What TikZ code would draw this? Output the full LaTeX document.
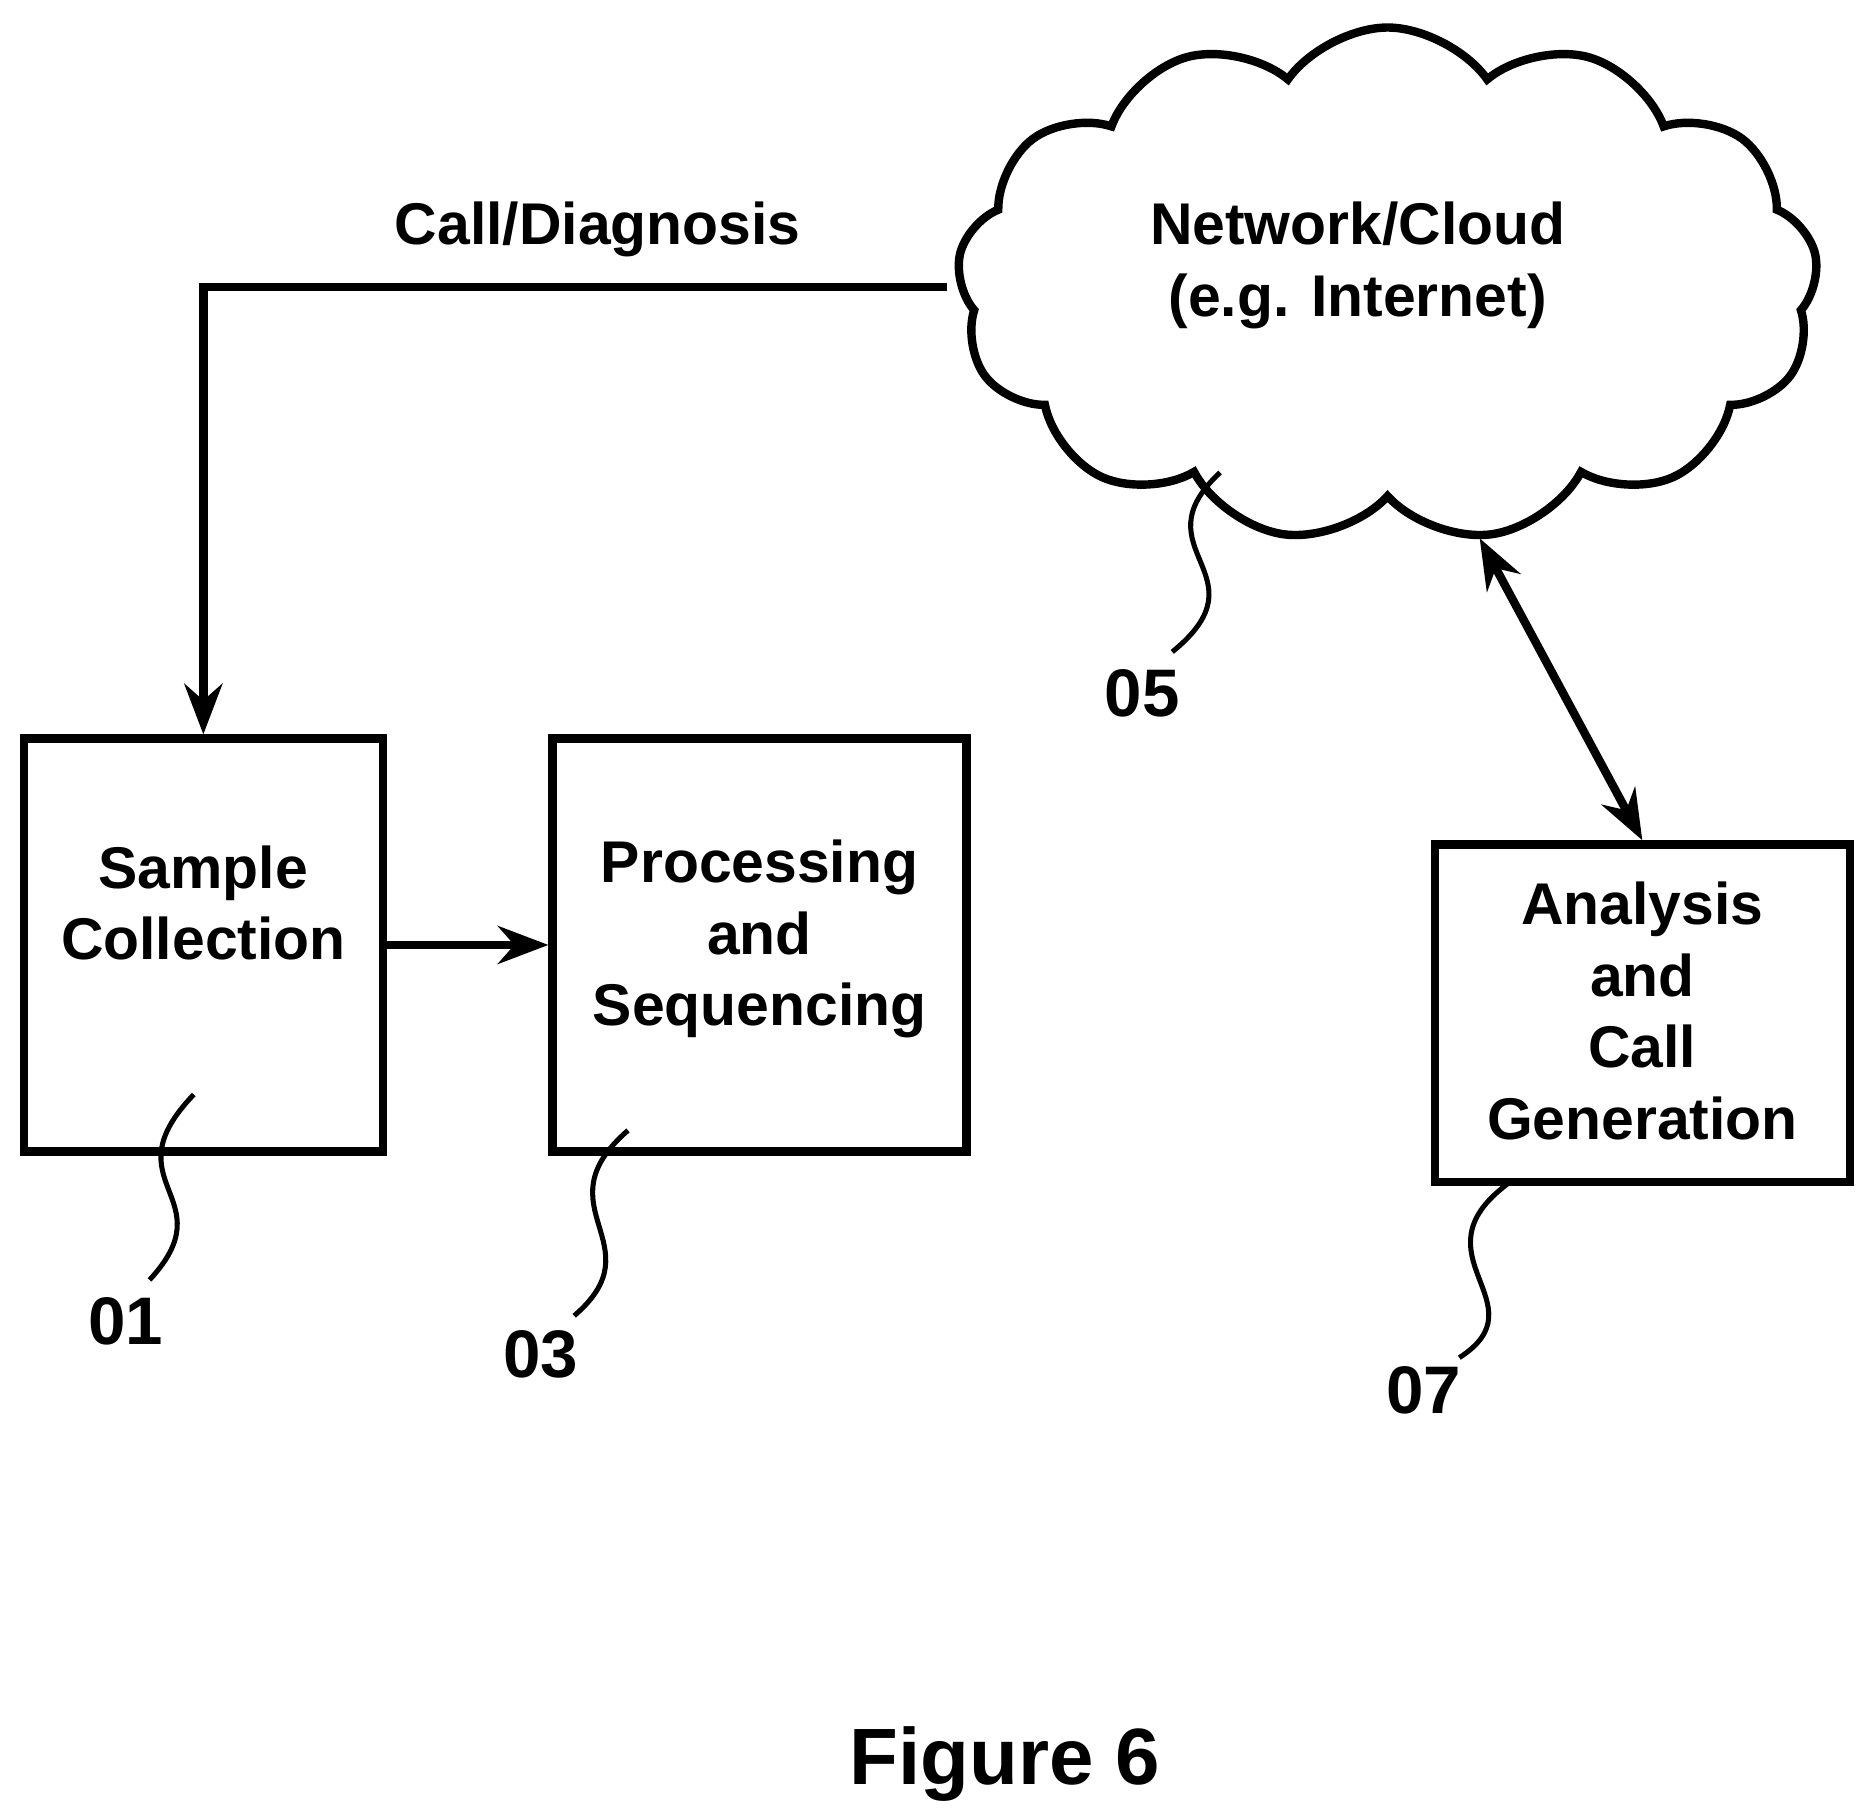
\documentclass[tikz,border=0pt]{standalone}
\usepackage{fontspec}
\setmainfont{Liberation Sans}
\usetikzlibrary{arrows.meta,shapes.symbols}
\tikzset{>=Stealth}
\tikzset{blk/.style={draw,minimum width=3cm,minimum height=3.45cm,align=center,font=\bfseries\fontsize{14}{17}\selectfont}}
\tikzset{lbl/.style={font=\bfseries\fontsize{16}{19}\selectfont}}
\begin{document}
\begin{tikzpicture}[line width=2pt]
  \useasboundingbox (0,0) rectangle (15.6,-15.19);

  % boxes
  \node[blk] (sc) at (1.70,-7.90) {};
  \node[blk,minimum width=3.46cm] (ps) at (6.35,-7.90) {};
  \node[blk,minimum width=3.47cm,minimum height=2.82cm] (ac) at (13.73,-8.47) {};
  \node[align=center,font=\bfseries\fontsize{14}{17}\selectfont] (sct) at (1.70,-7.55) {Sample\\Collection};
  \node[align=center,font=\bfseries\fontsize{14}{17}\selectfont] (pst) at (6.35,-7.85) {Processing\\and\\Sequencing};
  \node[align=center,font=\bfseries\fontsize{14}{17}\selectfont] (act) at (13.73,-8.45) {Analysis\\and\\Call\\Generation};

  % cloud
  \node[cloud,draw,cloud puffs=13,cloud puff arc=110,aspect=1.7,minimum width=7.2cm,minimum height=4.3cm] (nc) at (11.60,-2.38) {};
  \node[align=center,font=\bfseries\fontsize{14}{17}\selectfont] (nct) at (11.35,-2.22) {Network/Cloud\\(e.g. Internet)};

  % connectors
  \coordinate (cl) at (7.92,-2.40);
  \coordinate (bend) at (1.70,-2.40);
  \draw[->] (cl) -- node[above,pos=0.47,font=\bfseries\fontsize{14}{17}\selectfont,yshift=0.1cm] {Call/Diagnosis} (bend) -- (sc.north);
  \draw[->] (sc) -- (ps);
  \coordinate (cb) at (12.37,-4.50);
  \draw[<->] (cb) -- (ac.north-|13.73,0);

  % reference numerals
  \node[lbl] (n01) at (1.05,-11.05) {01};
  \node[lbl] (n03) at (4.52,-11.32) {03};
  \node[lbl] (n05) at (9.55,-5.80) {05};
  \node[lbl] (n07) at (11.90,-11.62) {07};
  \draw[line width=1.2pt] (1.62,-9.15) .. controls (0.9,-9.9) and (1.9,-10.0) .. (1.25,-10.70);
  \draw[line width=1.2pt] (5.25,-9.45) .. controls (4.5,-10.1) and (5.5,-10.4) .. (4.80,-11.00);
  \draw[line width=1.2pt] (10.20,-3.95) .. controls (9.5,-4.6) and (10.6,-4.8) .. (9.80,-5.45);
  \draw[line width=1.2pt] (12.60,-9.90) .. controls (11.8,-10.5) and (12.9,-10.9) .. (12.20,-11.35);

  \node[font=\bfseries\fontsize{19}{22}\selectfont] (fig) at (8.40,-14.75) {Figure 6};
\end{tikzpicture}
\end{document}
